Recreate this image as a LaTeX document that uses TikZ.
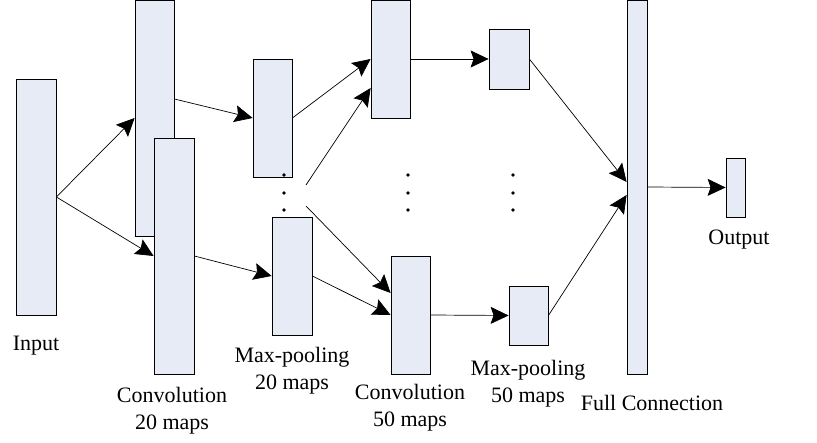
\documentclass[tikz,border=0pt]{standalone}
\usepackage{fontspec}
\setmainfont{Liberation Serif}
\newfontfamily\lblfont{Liberation Serif}
\usepackage{xcolor}
\usetikzlibrary{positioning}
\usetikzlibrary{arrows.meta}
\definecolor{mapfill}{RGB}{230,235,246}
\tikzset{
  map/.style={draw=black, line width=0.8pt, fill=mapfill, inner sep=0pt},
  conn/.style={line width=0.7pt, -{Stealth[length=18pt,width=17pt,inset=3pt]}},
  lbl/.style={align=center, font=\lblfont\fontsize{22}{27}\selectfont, inner sep=0pt}
}

\begin{document}
\begin{tikzpicture}[x=1pt,y=1pt]
\useasboundingbox (0,0) rectangle (817,442);
% feature maps
\node[map, minimum width=40, minimum height=236] (in) at (36,245) {};
\node[map, minimum width=39, minimum height=236] (conva) at (154.5,324) {};
\node[map, minimum width=40, minimum height=236] (convb) at (174,186) {};
\node[map, minimum width=39, minimum height=118] (poola) at (272.5,324) {};
\node[map, minimum width=40, minimum height=118] (poolb) at (292,166) {};
\node[map, minimum width=39, minimum height=118] (convc) at (390.5,383) {};
\node[map, minimum width=39, minimum height=118] (convd) at (410.5,127) {};
\node[map, minimum width=40, minimum height=60] (poolc) at (509,383) {};
\node[map, minimum width=39, minimum height=59] (poold) at (528.5,126.5) {};
\node[map, minimum width=20, minimum height=374] (fc) at (637,255) {};
\node[map, minimum width=19, minimum height=59] (out) at (735.5,254.5) {};

% dots
\foreach \x in {284,408,513}
  \foreach \y in {267,249,232}
    \fill (\x,\y) circle (1.8);

% connections
\coordinate (skipa) at (306,257);
\coordinate (skipb) at (306,236);
\draw[conn] (in.east) -- (conva.west);
\draw[conn] (in.east) -- (convb.west);
\draw[conn] ([yshift=19]conva.east) -- (poola.west);
\draw[conn] (convb.east) -- (poolb.west);
\draw[conn] (poola.east) -- (convc.west);
\draw[conn] (skipa) -- ([yshift=-29]convc.west);
\draw[conn] (skipb) -- ([yshift=22]convd.west);
\draw[conn] (poolb.east) -- (convd.west);
\draw[conn] (convc.east) -- (poolc.west);
\draw[conn] (convd.east) -- (poold.west);
\draw[conn] (poolc.east) -- ([yshift=5]fc.west);
\draw[conn] (poold.east) -- ([yshift=-8]fc.west);
\draw[conn] (fc.east) -- (out.west);

% labels
\node[lbl] (inlbl) at (36,96.5) {Input};
\node[lbl] (convablbl) at (172,31) {Convolution\\20 maps};
\node[lbl] (poolablbl) at (292,71.5) {Max-pooling\\20 maps};
\node[lbl] (convcdlbl) at (410,34) {Convolution\\50 maps};
\node[lbl] (poolcdlbl) at (528,58.5) {Max-pooling\\50 maps};
\node[lbl] (fclbl) at (652,39) {Full Connection};
\node[lbl] (outlbl) at (739,202.5) {Output};
\end{tikzpicture}
\end{document}
